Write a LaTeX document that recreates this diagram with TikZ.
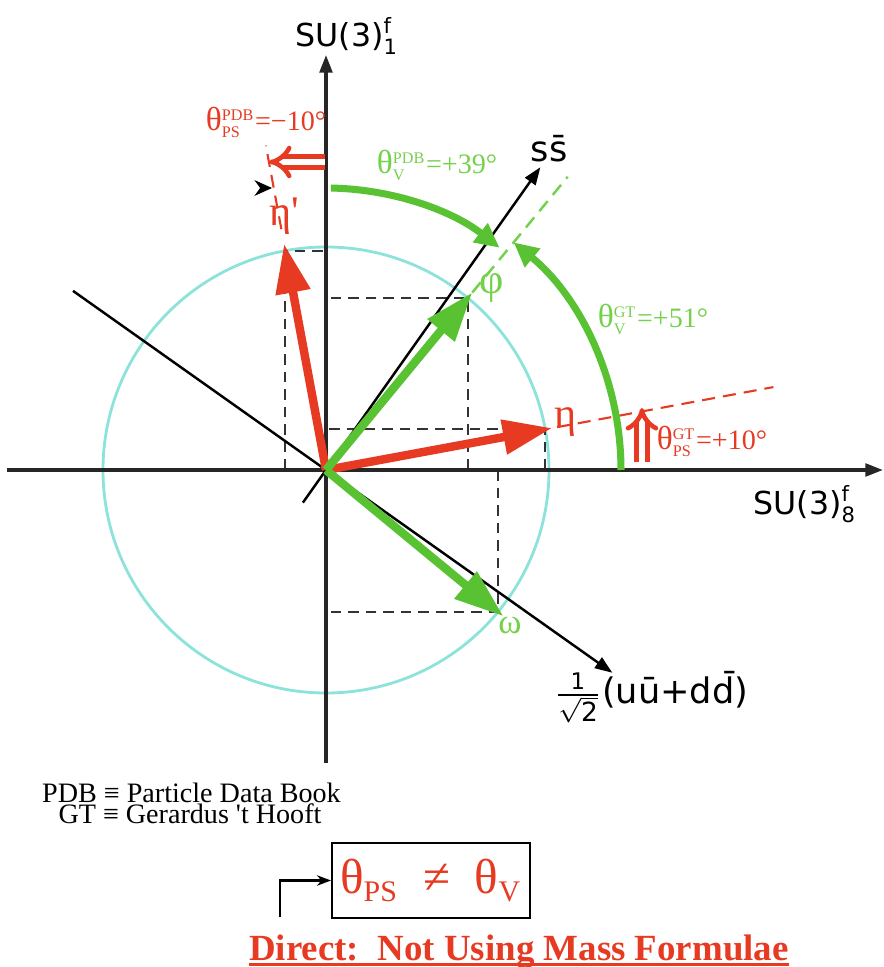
\documentclass[tikz,border=0pt]{standalone}
\usepackage{fontspec}
\setmainfont{Liberation Serif}[Ligatures=TeXOff]
\setsansfont{DejaVu Sans}[Ligatures=TeXOff]
\definecolor{mixred}{HTML}{E63B22}
\definecolor{mixgreen}{HTML}{58C232}
\definecolor{lightgreen}{HTML}{74D14B}
\definecolor{circcyan}{HTML}{8CE3DA}
\usetikzlibrary{calc, positioning, arrows.meta}
\newcommand{\mixang}[2]{{\fontsize{9.5}{10}\selectfont θ}$^{\mbox{\fontsize{4.6}{5}\selectfont #1}}_{\mbox{\fontsize{4.6}{5}\selectfont #2}}$}
\newcommand{\flavsc}[1]{\mbox{\sffamily\fontsize{6}{6}\selectfont #1}}

\begin{document}
\begin{tikzpicture}[
  axis/.style={draw=black!85, line width=0.9pt, -{Triangle[length=5pt,width=3.6pt]}},
  flav/.style={draw=black, line width=0.7pt, -{Triangle[length=5pt,width=3.6pt]}},
  vecps/.style={draw=mixred, line width=2.4pt, -{Triangle[length=14pt,width=9.5pt]}},
  vecv/.style={draw=mixgreen, line width=2.4pt, -{Triangle[length=14pt,width=9.5pt]}},
  proj/.style={draw=black!80, line width=0.6pt, dash pattern=on 3pt off 2pt},
  extps/.style={draw=mixred, line width=0.6pt, dash pattern=on 3.7pt off 2.3pt},
  extv/.style={draw=lightgreen, line width=0.7pt, dash pattern=on 3.7pt off 2.3pt},
  arcv/.style={draw=mixgreen, line width=2pt, -{Triangle[length=7pt,width=6.5pt]}},
  dblarr/.style={draw=mixred, line width=1.3pt, double=white, double distance=1.7pt, -{Implies}},
  axlabel/.style={font=\sffamily\fontsize{9}{10}\selectfont, inner sep=0pt},
  flabel/.style={font=\sffamily\fontsize{10}{11}\selectfont, inner sep=0pt},
  mlabel/.style={font=\fontsize{12}{12}\selectfont, inner sep=0pt},
  alabel/.style={font=\fontsize{8}{9}\selectfont, inner sep=0pt},
  note/.style={font=\fontsize{8}{8}\selectfont, inner sep=0pt, anchor=base},
]
\useasboundingbox (-3.26,-4.97) rectangle (5.58,4.70);

\coordinate (O) at (0,0);
\coordinate (xl) at (-3.19,0);
\coordinate (xr) at (5.57,0);
\coordinate (yb) at (0,-2.93);
\coordinate (yt) at (0,4.15);
\coordinate (sl) at (234.7:0.4);
\coordinate (sr) at (54.7:3.71);
\coordinate (ul) at (144.7:3.1);
\coordinate (ur) at (-35.3:3.51);

\draw[circcyan, line width=0.8pt] (O) circle (2.23);

\coordinate (etap) at (100.5:2.23);
\coordinate (eta) at (10.5:2.23);
\coordinate (phi) at (50.5:2.23);
\coordinate (omg) at (-39.5:2.23);
\draw[proj] (etap |- O) -- (etap) -- (etap -| O);
\draw[proj] (eta |- O) -- (eta) -- (eta -| O);
\draw[proj] (phi |- O) -- (phi) -- (phi -| O);
\draw[proj] (omg |- O) -- (omg) -- (omg -| O);

\draw[axis] (xl) -- (xr);
\draw[axis] (yb) -- (yt);
\draw[flav] (sl) -- (sr);
\draw[flav] (ul) -- (ur);

\draw[extps] (10.5:2.35) -- (10.5:4.55);
\draw[extps] (100.5:2.45) -- (100.5:3.3);
\draw[extv] (50.5:2.3) -- (50.5:3.8);

\draw[vecps] (O) -- (100.5:2.3);
\draw[vecps] (O) -- (10.5:2.3);
\draw[vecv] (O) -- (50.5:2.3);
\draw[vecv] (O) -- (-39.5:2.3);

\coordinate (gtA) at (0:2.95);
\coordinate (pdbA) at (89:2.82);
\draw[arcv] (gtA) arc[start angle=0, end angle=50.5, radius=2.95];
\draw[arcv] (pdbA) arc[start angle=89, end angle=52, radius=2.82];

\coordinate (gtlo) at (3.16,0.08);
\coordinate (gthi) at (3.16,0.62);
\coordinate (pdbr) at (-0.01,3.08);
\coordinate (pdbl) at (-0.57,3.08);
\draw[dblarr] (gtlo) -- (gthi);
\draw[dblarr] (pdbr) -- (pdbl);
\coordinate (mk1) at (-0.60,2.82);
\coordinate (mk2) at (-0.54,2.82);
\draw[black, -{Stealth[length=5pt,width=4.5pt]}] (mk1) -- (mk2);

\node[axlabel, anchor=base west] (su1) at (-0.31,4.23) {SU(3)$^{\flavsc{f}}_{\flavsc{1}}$};
\node[axlabel, anchor=base west] (su8) at (4.27,-0.45) {SU(3)$^{\flavsc{f}}_{\flavsc{8}}$};
\node[flabel, anchor=base west] (ss) at (2.04,3.08) {s\=s};
\node[flabel] (uu) at (3.25,-2.27) {$\frac{\mbox{\sffamily\fontsize{6.5}{7}\selectfont 1}}{\sqrt{\mbox{\sffamily\fontsize{7.5}{8}\selectfont 2}}}$(u\=u+d\=d)};

\node[mlabel, mixred] (letap) at (-0.42,2.54) {η'};
\node[mlabel, mixred] (leta) at (2.40,0.48) {η};
\node[mlabel, lightgreen] (lphi) at (1.66,1.82) {φ};
\node[mlabel, lightgreen, font=\fontsize{10}{10}\selectfont] (lomg) at (1.84,-1.55) {ω};

\node[alabel, mixred] (apdbps) at (-0.60,3.48) {\mixang{PDB}{PS}=−10°};
\node[alabel, lightgreen] (apdbv) at (1.11,3.05) {\mixang{PDB}{V}=+39°};
\node[alabel, lightgreen] (agtv) at (3.27,1.51) {\mixang{GT}{V}=+51°};
\node[alabel, mixred] (agtps) at (3.86,0.29) {\mixang{GT}{PS}=+10°};

\node[note] (pdb) at (-1.345,-3.32) {PDB ≡ Particle Data Book};
\node[note] (gt) at (-1.36,-3.53) {GT ≡ Gerardus 't Hooft};

\node[draw, line width=0.6pt, minimum width=1.98cm, minimum height=0.75cm, inner sep=0pt,
      text=mixred, font=\fontsize{14}{14}\selectfont] (neq) at (1.05,-4.105)
  {θ$_{\mbox{\fontsize{8.5}{8.5}\selectfont PS}}$\enspace≠\enspace θ$_{\mbox{\fontsize{8.5}{8.5}\selectfont V}}$};
\coordinate (from) at (-0.46,-4.47);
\draw[line width=0.6pt, -{Stealth[length=4pt,width=3pt]}] (from) |- (neq.west);

\node[inner sep=0pt, anchor=base, text=mixred, font=\bfseries\fontsize{10.5}{11}\selectfont] (direct) at (1.93,-4.90)
  {Direct:\ \ Not Using Mass Formulae};
\draw[mixred, line width=0.9pt] ([yshift=-1.3pt]direct.base west) -- ([yshift=-1.3pt]direct.base east);
\end{tikzpicture}
\end{document}
